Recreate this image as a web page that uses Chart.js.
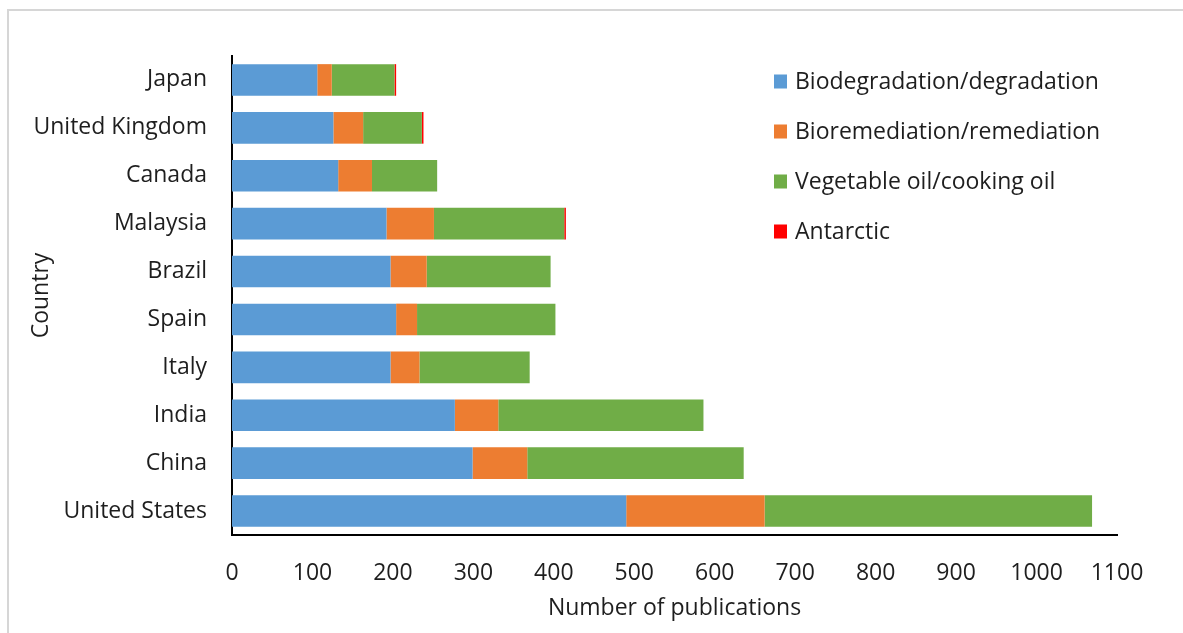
<!DOCTYPE html>
<html>
<head>
<meta charset="utf-8">
<style>
  html, body { margin: 0; padding: 0; background: #ffffff; }
  #wrap { position: relative; width: 1183px; height: 633px; }
  canvas { display: block; }
</style>
<script src="https://cdn.jsdelivr.net/npm/chart.js@4.4.1/dist/chart.umd.min.js"></script>
</head>
<body>
<div id="wrap"><canvas id="chart" width="1183" height="633"></canvas></div>
<script>
// Countries, listed top to bottom
const countries = ['Japan', 'United Kingdom', 'Canada', 'Malaysia', 'Brazil', 'Spain', 'Italy', 'India', 'China', 'United States'];

// Publications per topic and country
const biodegradation = [106, 126, 132, 192, 197, 204, 197, 277, 299, 490];
const bioremediation = [18, 37, 42, 59, 45, 26, 36, 54, 68, 172];
const vegetableOil   = [78, 73, 81, 162, 154, 172, 137, 255, 269, 407];
const antarctic      = [2, 2, 0, 2, 0, 0, 0, 0, 0, 0];

const seriesNames = ['Biodegradation/degradation', 'Bioremediation/remediation', 'Vegetable oil/cooking oil', 'Antarctic'];
const seriesColors = ['#5B9BD5', '#ED7D31', '#70AD47', '#FF0000'];

const xMin = 0, xMax = 1100, xStep = 100;

const FONT = "'Open Sans', 'Noto Sans', 'Liberation Sans', sans-serif";
const FONT_SIZE = 23;
const TEXT = '#1e1e1e';

// Thin grey frame around the figure
const framePlugin = {
  id: 'frame',
  beforeDraw(chart) {
    const ctx = chart.ctx;
    ctx.save();
    ctx.strokeStyle = '#d6d6d6';
    ctx.lineWidth = 2;
    ctx.beginPath();
    ctx.moveTo(8, chart.height);
    ctx.lineTo(8, 10);
    ctx.lineTo(chart.width, 10);
    ctx.stroke();
    ctx.restore();
  }
};

// Legend drawn inside the plot area, upper right
const insideLegend = {
  id: 'insideLegend',
  afterDraw(chart) {
    const ctx = chart.ctx;
    const x0 = 774, y0 = 81.5, rowGap = 50, box = 13;
    ctx.save();
    ctx.font = FONT_SIZE + 'px ' + FONT;
    ctx.textBaseline = 'middle';
    ctx.textAlign = 'left';
    chart.data.datasets.forEach((ds, i) => {
      const cy = y0 + i * rowGap;
      ctx.fillStyle = ds.backgroundColor;
      ctx.fillRect(x0, cy - 7, box, 14);
      ctx.fillStyle = TEXT;
      ctx.fillText(ds.label, x0 + 21, cy + 1);
    });
    ctx.restore();
  }
};

const seriesData = [biodegradation, bioremediation, vegetableOil, antarctic];

new Chart(document.getElementById('chart'), {
  type: 'bar',
  data: {
    labels: countries,
    datasets: seriesData.map((d, i) => ({
      label: seriesNames[i],
      data: d,
      backgroundColor: seriesColors[i],
      borderWidth: 0,
      barPercentage: 0.66,
      categoryPercentage: 1.0
    }))
  },
  options: {
    indexAxis: 'y',
    responsive: false,
    animation: false,
    layout: { padding: { top: 56, right: 66, left: 0, bottom: 0 } },
    plugins: {
      legend: { display: false },
      tooltip: { enabled: false }
    },
    scales: {
      x: {
        stacked: true,
        min: xMin,
        max: xMax,
        ticks: {
          stepSize: xStep,
          padding: 25,
          color: TEXT,
          font: { family: FONT, size: FONT_SIZE },
          maxRotation: 0,
          callback: (v) => String(v)
        },
        grid: { display: false, drawTicks: false },
        border: { display: true, color: '#000000', width: 2 },
        title: {
          display: true,
          text: 'Number of publications',
          color: TEXT,
          font: { family: FONT, size: FONT_SIZE },
          padding: { top: 0, bottom: 11 }
        },
        afterFit(scale) { scale.height = 98; }
      },
      y: {
        stacked: true,
        ticks: {
          padding: 25,
          color: TEXT,
          font: { family: FONT, size: FONT_SIZE }
        },
        grid: { display: false, drawTicks: false },
        border: { display: true, color: '#000000', width: 2 },
        title: {
          display: true,
          text: 'Country',
          color: TEXT,
          font: { family: FONT, size: FONT_SIZE },
          padding: { top: 28, bottom: 0 }
        },
        afterFit(scale) { scale.width = 232; }
      }
    }
  },
  plugins: [framePlugin, insideLegend]
});
</script>
</body>
</html>
